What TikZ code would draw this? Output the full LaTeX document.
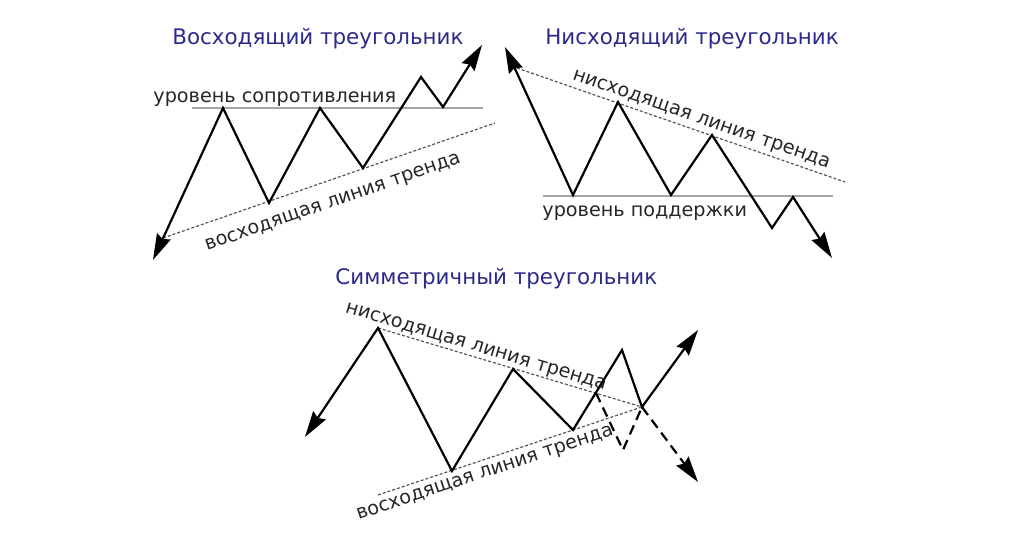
\documentclass[tikz,border=0pt]{standalone}
\usepackage{fontspec}
\setmainfont{DejaVu Sans}
\usepackage{xcolor}
\usetikzlibrary{arrows.meta}
\definecolor{titleblue}{RGB}{42,42,140}
\definecolor{levelgray}{RGB}{165,165,165}
\definecolor{trendgray}{RGB}{85,85,85}

\begin{document}
\begin{tikzpicture}[x=0.5pt,y=-0.5pt,
  title/.style={anchor=base west,inner sep=0,text=titleblue,font=\fontsize{10.7}{12}\selectfont},
  label/.style={inner sep=0,text=black!85,font=\fontsize{9.6}{11}\selectfont},
  tip/.style={-{Stealth[length=13pt,width=7.5pt,inset=1.5pt]}},
  zigzag/.style={line width=1.1pt,line join=miter,{Stealth[length=13pt,width=7.5pt,inset=1.5pt]}-{Stealth[length=13pt,width=7.5pt,inset=1.5pt]}},
  breakout/.style={line width=1.1pt,dash pattern=on 5pt off 3pt},
  level/.style={levelgray,line width=0.8pt},
  trend/.style={trendgray,line width=0.6pt,dash pattern=on 1.5pt off 1pt}]

\useasboundingbox (0,0) rectangle (1024,539);

% Ascending triangle
\node[title] (asctitle) at (172,45) {Восходящий треугольник};
\coordinate (r1) at (192,108); \coordinate (r2) at (483,108);
\coordinate (t1) at (163,238); \coordinate (t2) at (495,123);
\draw[level] (r1) -- (r2);
\draw[trend] (t1) -- (t2) node[label,pos=0.49,sloped,below=7.5pt] (asctrend) {восходящая линия тренда};
\node[label,anchor=base west] (resist) at (153,103) {уровень сопротивления};
\coordinate (a0) at (153,260); \coordinate (a1) at (223,108);
\coordinate (a2) at (269,203); \coordinate (a3) at (320,108);
\coordinate (a4) at (363,168); \coordinate (a5) at (421,77);
\coordinate (a6) at (443,107); \coordinate (a7) at (482,45);
\draw[zigzag] (a0) -- (a1) -- (a2) -- (a3) -- (a4) -- (a5) -- (a6) -- (a7);

% Descending triangle
\node[title] (desctitle) at (545,45) {Нисходящий треугольник};
\coordinate (s1) at (543,196); \coordinate (s2) at (833,196);
\coordinate (u1) at (517,68); \coordinate (u2) at (845,182);
\draw[level] (s1) -- (s2);
\draw[trend] (u1) -- (u2) node[label,pos=0.55,sloped,above=1.5pt] (desctrend) {нисходящая линия тренда};
\node[label,anchor=base west] (support) at (542,217) {уровень поддержки};
\coordinate (d0) at (505,47); \coordinate (d1) at (573,195);
\coordinate (d2) at (618,102); \coordinate (d3) at (671,195);
\coordinate (d4) at (712,135); \coordinate (d5) at (772,228);
\coordinate (d6) at (793,197); \coordinate (d7) at (832,258);
\draw[zigzag] (d0) -- (d1) -- (d2) -- (d3) -- (d4) -- (d5) -- (d6) -- (d7);

% Symmetric triangle
\node[title] (symtitle) at (335,285) {Симметричный треугольник};
\coordinate (c0) at (305,437); \coordinate (c1) at (378,328);
\coordinate (c2) at (452,471); \coordinate (c3) at (513,369);
\coordinate (c4) at (573,430); \coordinate (c5) at (622,350);
\coordinate (c6) at (642,407); \coordinate (c7) at (698,330);
\coordinate (c8) at (698,482);
\coordinate (cb) at (596,393); \coordinate (cm) at (623,450);
\coordinate (v1) at (378,495);
\draw[trend] (c1) -- (c6) node[label,pos=0.36,sloped,above=0.5pt] (symdown) {нисходящая линия тренда};
\draw[trend] (v1) -- (c6) node[label,pos=0.39,sloped,below=3pt] (symup) {восходящая линия тренда};
\draw[zigzag] (c0) -- (c1) -- (c2) -- (c3) -- (c4) -- (c5) -- (c6) -- (c7);
\draw[breakout] (cb) -- (cm) -- (c6);
\draw[breakout,tip] (c6) -- (c8);

\end{tikzpicture}
\end{document}
